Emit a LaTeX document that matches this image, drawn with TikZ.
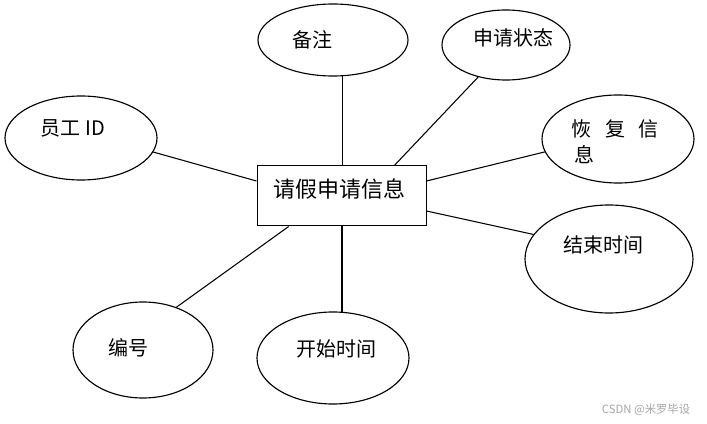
\documentclass[tikz,border=0pt]{standalone}
\usepackage{fontspec}
\setmainfont{Noto Sans CJK SC}
\usetikzlibrary{shapes.geometric,calc}
\begin{document}
\begin{tikzpicture}[x=0.75pt,y=-0.75pt,
  ent/.style={draw,ellipse,line width=0.85pt,inner sep=0pt},
  lbl/.style={inner sep=0pt,font=\fontsize{15pt}{18pt}\selectfont},
  conn/.style={line width=0.8pt}]
\useasboundingbox[fill=white] (0,0) rectangle (707,424);
% central box
\node[draw,line width=0.75pt,minimum width=169*0.75pt,minimum height=60*0.75pt,inner sep=0pt] (box) at (341.5,196) {};
\node[inner sep=0pt,font=\fontsize{16.5pt}{20pt}\selectfont] (boxt) at (339,189) {请假申请信息};
% ellipses
\node[ent,minimum width=150*0.75pt,minimum height=72*0.75pt] (bz) at (333,40) {};
\node[ent,minimum width=128*0.75pt,minimum height=70*0.75pt] (zt) at (506,45) {};
\node[ent,minimum width=152*0.75pt,minimum height=84*0.75pt] (yg) at (81,138) {};
\node[ent,minimum width=152*0.75pt,minimum height=88*0.75pt] (hf) at (618,139) {};
\node[ent,minimum width=168*0.75pt,minimum height=108*0.75pt] (js) at (609,259) {};
\node[ent,minimum width=140*0.75pt,minimum height=96*0.75pt] (bh) at (143,350) {};
\node[ent,minimum width=152*0.75pt,minimum height=92*0.75pt] (ks) at (333,358) {};
% labels
\node[lbl] (bzt) at (312,40) {备注};
\node[lbl] (ztt) at (513,38) {申请状态};
\node[lbl] (ygt) at (73,128) {员工 ID};
\node[lbl] (hfa) at (581,129) {恢};
\node[lbl] (hfb) at (615,129) {复};
\node[lbl] (hfc) at (648,129) {信};
\node[lbl] (hfd) at (584,155) {息};
\node[lbl] (jst) at (603,245) {结束时间};
\node[lbl] (bht) at (128,348) {编号};
\node[lbl] (kst) at (336,349) {开始时间};
% connectors
\draw[conn] (bz.-76) -- (bz.-76 |- box.north);
\draw[conn] (ks.79) -- (ks.79 |- box.south);
\draw[conn] (zt.-131) -- (box.30.7);
\draw[conn] (yg.-11) -- (box.170);
\draw[conn] (hf.190) -- (box.10);
\draw[conn] (js.162) -- (box.-10.7);
\draw[conn] (bh.52) -- (box.210);
% watermark
\node[inner sep=0pt,text=black!35,font=\fontsize{8.5pt}{10pt}\selectfont] (wm) at (646,410) {CSDN @米罗毕设};
\end{tikzpicture}
\end{document}
